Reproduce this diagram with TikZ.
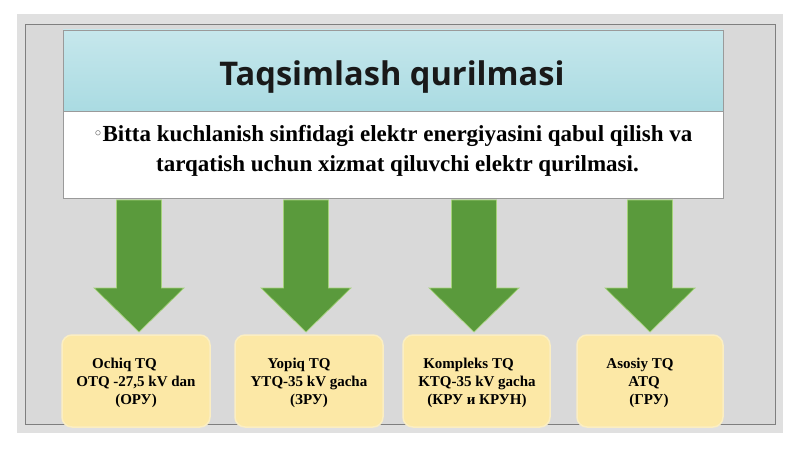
\documentclass[tikz,border=0pt]{standalone}
\usepackage{fontspec}
\setmainfont{Liberation Serif}
\newfontfamily\titlefont{Open Sans}
\newfontfamily\symfont{DejaVu Sans}
\definecolor{slideouter}{HTML}{E0E0E0}
\definecolor{slideinner}{HTML}{D9D9D9}
\definecolor{frameline}{HTML}{7F7F7F}
\definecolor{bluetop}{HTML}{C6E7EC}
\definecolor{bluebot}{HTML}{AADBE2}
\definecolor{greenfill}{HTML}{5A9A3C}
\definecolor{greenedge}{HTML}{A5D27A}
\definecolor{yellowfill}{HTML}{FCE8A6}
\definecolor{yellowedge}{HTML}{FBEEC2}
\definecolor{boxline}{HTML}{9A9A9A}
\tikzset{
  titlebox/.style={draw=boxline, line width=0.6pt, top color=bluetop, bottom color=bluebot,
    minimum width=660pt, minimum height=81pt, inner sep=0pt},
  descbox/.style={draw=boxline, line width=0.6pt, fill=white,
    minimum width=660pt, minimum height=87pt, inner sep=0pt},
  titletext/.style={font=\titlefont\fontsize{32.6}{38}\selectfont\bfseries, text=black!90, inner sep=0pt},
  desctext/.style={font=\fontsize{23}{30}\selectfont\bfseries, align=center, inner sep=0pt},
  ybox/.style={fill=yellowfill, draw=yellowedge, line width=1.5pt, rounded corners=10pt,
    minimum height=92pt, inner sep=0pt},
  ytext/.style={font=\fontsize{15}{18}\selectfont\bfseries, align=center, inner sep=0pt},
  greenarrow/.style={fill=greenfill, draw=greenedge, line width=0.7pt, line join=miter}
}
\begin{document}
\begin{tikzpicture}[x=1pt,y=-1pt]
\useasboundingbox (0,0) rectangle (800,449);
\fill[white] (0,0) rectangle (800,449);
\fill[slideouter] (17,14) rectangle (783,433);
\filldraw[fill=slideinner, draw=frameline, line width=0.8pt] (25,24) rectangle (775,424);

% header boxes
\node[titlebox] (head) at (393,70.5) {};
\node[descbox] (desc) at (393,154.5) {};
\node[titletext] (headtext) at (392,76.9) {Taqsimlash qurilmasi};
\node[desctext] (desctext) at (393,150.7)
  {{\symfont\fontsize{14}{14}\selectfont\color{black!70}\raisebox{3pt}{◦}}Bitta kuchlanish sinfidagi elektr energiyasini qabul qilish va\\
   \makebox[9pt]{}tarqatish uchun xizmat qiluvchi elektr qurilmasi.};

% arrows
\foreach \cx in {139,306,474,650}{
  \filldraw[greenarrow] (\cx-22.5,200) -- (\cx+22.5,200) -- (\cx+22.5,288) -- (\cx+45,288)
    -- (\cx,332) -- (\cx-45,288) -- (\cx-22.5,288) -- cycle;
}

% yellow boxes
\node[ybox, minimum width=148pt] (y1) at (136,381) {};
\node[ybox, minimum width=148pt] (y2) at (309,381) {};
\node[ybox, minimum width=147pt] (y3) at (476.5,381) {};
\node[ybox, minimum width=146pt] (y4) at (650,381) {};

\node[ytext] (t1) at (136,382.5) {Ochiq TQ\makebox[23pt]{}\\OTQ -27,5 kV dan\\(ОРУ)};
\node[ytext] (t2) at (309,382.5) {Yopiq TQ\makebox[20pt]{}\\YTQ-35 kV gacha\\(ЗРУ)};
\node[ytext] (t3) at (477,382.5) {Kompleks TQ\makebox[17pt]{}\\KTQ-35 kV gacha\\(КРУ и КРУН)};
\node[ytext] (t4) at (649,382.5) {Asosiy TQ\makebox[18pt]{}\\ATQ\makebox[10pt]{}\\(ГРУ)};
\end{tikzpicture}
\end{document}
